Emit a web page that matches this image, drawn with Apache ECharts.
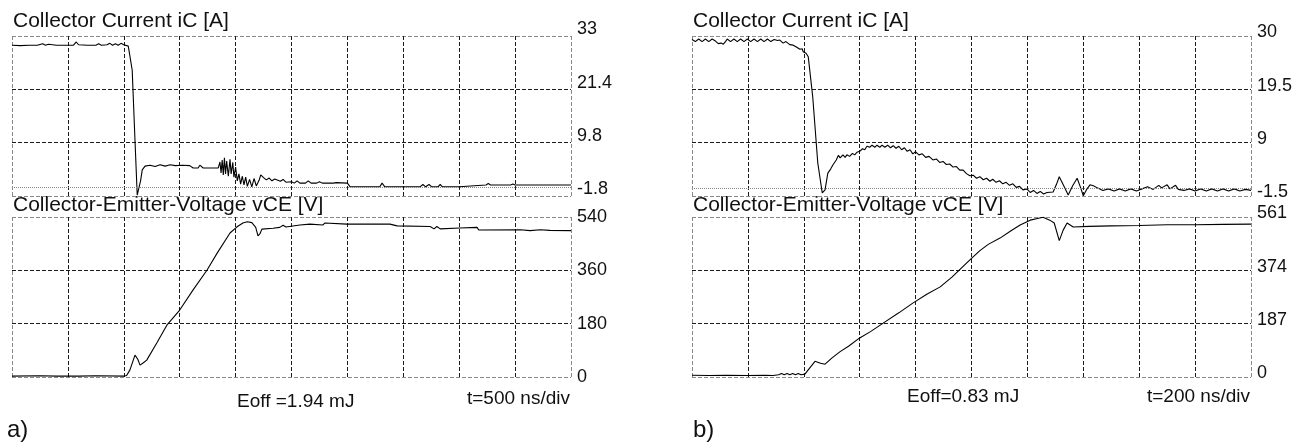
<!DOCTYPE html>
<html>
<head>
<meta charset="utf-8">
<script src="https://cdn.jsdelivr.net/npm/echarts@6/dist/echarts.min.js"></script>
<style>html,body{margin:0;padding:0;background:#fff;}#c{width:1306px;height:442px;}</style>
</head>
<body>
<div id="c"></div>
<script>
// ---- tick labels ----
const ticksA_iC = [-1.8, 9.8, 21.4, 33];
const ticksA_vCE = [0, 180, 360, 540];
const ticksB_iC = [-1.5, 9, 19.5, 30];
const ticksB_vCE = [0, 187, 374, 561];
const timeDivs = [0, 10]; // 10 divisions

// ---- a) collector current (time in divisions, current in A) ----
const tA_iC = [0,0.15,0.3,0.45,0.55,0.6,0.65,0.8,0.95,1.1,
  1.15,1.19,1.35,1.5,1.55,1.6,1.7,1.75,1.8,1.85,
  1.9,1.95,2.0,2.03,2.08,2.15,2.2,2.24,2.3,2.33,
  2.38,2.47,2.56,2.65,2.74,2.83,2.92,3.05,3.18,3.24,
  3.33,3.36,3.42,3.55,3.69,3.72,3.74,3.76,3.78,3.8,
  3.82,3.84,3.87,3.9,3.92,3.95,3.97,4.0,4.03,4.06,
  4.09,4.12,4.15,4.18,4.21,4.25,4.29,4.33,4.37,4.42,
  4.45,4.5,4.55,4.6,4.65,4.7,4.8,4.85,4.9,5.0,
  5.05,5.1,5.15,5.25,5.3,5.35,5.45,5.5,5.55,5.75,
  5.8,6.0,6.05,6.58,6.62,6.67,7.3,7.35,7.4,7.46,
  7.51,7.56,7.62,7.66,7.7,8.0,8.02,8.48,8.52,8.56,
  8.92,8.96,9.0,10];
const iA_iC = [31.0,30.9,31.0,31.0,31.3,31.0,31.2,31.0,31.0,31.0,
  31.7,31.1,31.0,31.0,31.3,31.0,31.1,31.4,31.0,31.3,
  31.0,31.4,31.1,31.4,30.8,25.6,10.4,-1.6,1.5,3.9,
  4.7,4.9,4.6,5.0,4.7,5.0,4.8,4.9,4.8,4.3,
  4.3,4.9,4.3,4.3,4.3,5.6,3.2,6.0,2.8,6.5,
  3.0,5.8,2.5,6.2,3.0,5.5,2.3,4.5,1.5,3.0,
  0.8,2.5,0.6,2.3,0.3,1.8,0.2,2.0,0.4,1.6,
  2.8,2.2,1.7,2.1,1.5,1.9,1.4,1.8,1.2,1.3,
  1.0,1.5,1.0,1.0,1.5,1.0,1.0,1.3,1.0,1.0,
  1.1,1.0,0.2,0.2,1.0,0.2,0.2,0.7,0.2,0.7,
  0.2,0.2,0.2,0.7,0.2,0.2,0.6,0.6,0.9,0.6,
  0.6,0.8,0.6,0.6];

// ---- a) collector-emitter voltage (V) ----
const tA_vCE = [0,0.5,0.8,1.2,1.5,2.0,2.05,2.11,2.2,2.25,
  2.29,2.35,2.41,2.59,2.77,3.0,3.24,3.49,3.67,3.9,
  4.02,4.13,4.21,4.29,4.36,4.4,4.44,4.47,4.67,4.79,
  4.85,4.9,5.15,5.33,5.56,5.6,5.99,6.76,6.89,7.48,
  7.55,7.6,7.66,8.01,8.32,8.35,9.09,9.27,9.45,9.62,10];
const vA_vCE = [3,4,3,3,4,3,5,24,74,60,
  40,48,57,115,175,226,294,361,418,486,
  506,520,524,521,505,476,485,499,502,505,
  512,506,513,516,513,520,516,516,510,508,
  500,508,500,503,505,496,497,494,497,495,494];

// ---- b) collector current (A) ----
const tB_iC = [0,0.06,0.12,0.18,0.24,0.3,0.36,0.42,0.47,0.52,
  0.56,0.6,0.63,0.69,0.75,0.81,0.87,0.93,0.99,1.05,
  1.11,1.17,1.23,1.29,1.35,1.41,1.47,1.53,1.57,1.63,
  1.68,1.75,1.81,1.86,1.93,1.97,1.99,2.04,2.08,2.11,
  2.16,2.25,2.33,2.38,2.43,2.48,2.52,2.58,2.62,2.65,
  2.7,2.74,2.77,2.82,2.87,2.91,2.95,3.0,3.05,3.09,
  3.13,3.18,3.22,3.27,3.31,3.36,3.4,3.45,3.5,3.55,
  3.6,3.65,3.7,3.75,3.8,3.85,3.9,3.95,4.0,4.06,
  4.12,4.18,4.24,4.31,4.37,4.43,4.49,4.55,4.61,4.67,
  4.73,4.79,4.85,4.91,4.97,5.03,5.09,5.15,5.21,5.27,
  5.33,5.38,5.44,5.5,5.56,5.62,5.68,5.74,5.8,5.86,
  5.92,5.99,6.05,6.11,6.17,6.23,6.29,6.35,6.46,6.52,
  6.57,6.65,6.73,6.81,6.89,6.95,7.0,7.06,7.12,7.18,
  7.25,7.35,7.45,7.55,7.65,7.75,7.85,7.95,8.05,8.15,
  8.25,8.35,8.4,8.5,8.55,8.65,8.7,8.8,8.9,9.0,
  9.1,9.2,9.3,9.4,9.5,9.6,9.7,9.8,9.9,10];
const iB_iC = [29.3,28.9,29.4,28.9,29.4,28.9,29.4,29.0,28.5,28.6,
  28.4,28.9,29.4,28.9,29.4,28.9,29.4,28.9,29.4,28.9,
  29.4,28.9,29.4,28.9,29.4,28.9,29.3,29.1,29.2,28.6,
  28.9,28.3,28.2,27.9,27.4,27.5,26.9,26.6,25.9,25.6,
  18.0,5.0,-0.9,-0.3,3.0,3.8,4.6,5.6,6.5,6.0,
  6.6,6.1,6.6,6.3,6.9,6.6,7.1,7.3,7.8,7.6,
  8.3,8.1,8.5,8.1,8.5,8.1,8.5,8.1,8.5,8.0,
  8.4,7.9,8.3,7.6,8.0,7.3,7.6,6.8,7.2,6.6,
  6.8,6.1,6.3,5.6,5.8,5.1,5.3,4.7,4.8,4.2,
  4.3,3.6,3.6,2.9,2.5,2.6,2.0,2.3,1.7,2.0,
  1.4,1.8,1.2,1.5,0.9,1.2,0.6,0.9,0.2,0.4,
  -0.3,-0.1,-0.8,-0.4,-1.0,-0.6,-1.1,-0.8,-0.7,0.8,
  2.3,0.5,-1.3,0.5,2.0,0.2,-1.45,-0.2,0.7,0.5,
  0.1,-0.4,-0.1,-0.5,-0.1,-0.5,-0.1,-0.5,-0.1,0.3,
  -0.2,0.6,0.1,0.7,-0.1,0.6,-0.2,-0.4,-0.1,-0.5,
  -0.1,-0.5,-0.1,-0.5,-0.1,-0.5,-0.1,-0.5,-0.2,-0.4];

// ---- b) collector-emitter voltage (V) ----
const tB_vCE = [0,0.3,0.6,1.0,1.3,1.45,1.55,1.6,1.65,1.7,
  1.75,1.8,1.85,1.9,1.95,2.02,2.1,2.2,2.3,2.38,
  2.5,2.65,2.8,3.0,3.2,3.42,3.7,3.95,4.2,4.44,
  4.65,4.85,5.0,5.15,5.3,5.51,5.7,5.87,6.05,6.18,
  6.28,6.4,6.48,6.57,6.64,6.71,6.82,7.1,7.5,8.0,
  8.5,9.0,9.5,10];
const vB_vCE = [6,5,6,5,6,5,8,12,8,12,
  8,12,8,12,8,10,30,55,48,45,
  66,89,108,137,160,189,225,259,290,316,
  350,388,416,443,465,487,512,533,550,556,
  560,550,540,478,515,540,526,528,530,531,
  534,534,535,536];

function zip(t, v) { return t.map((x, i) => [x, v[i]]); }

const FONT = '"Liberation Sans", Arial, sans-serif';
const gridColor = '#1a1a1a', borderColor = '#8a8a8a';
const xLineColors = [borderColor].concat(Array(9).fill(gridColor), [borderColor]);
const yLineColors = [borderColor, gridColor, gridColor, borderColor];

const grids = [
  {left: 12, top: 36, width: 559, height: 160},
  {left: 12, top: 217, width: 559, height: 160},
  {left: 692, top: 36, width: 559, height: 160},
  {left: 692, top: 217, width: 559, height: 160}
];
const yTicks = [ticksA_iC, ticksA_vCE, ticksB_iC, ticksB_vCE];
// label vertical placement per panel: [verticalAlign, lineHeight]
const labelPlace = [['bottom', 13], ['middle', 18], ['bottom', 7], ['bottom', 7]];

const xAxes = grids.map((g, i) => ({
  gridIndex: i, type: 'value', min: timeDivs[0], max: timeDivs[1], interval: 1,
  axisLine: {show: false}, axisTick: {show: false}, axisLabel: {show: false},
  splitLine: {show: true, lineStyle: {color: xLineColors, type: [4, 2], width: 1}}
}));
const yAxes = grids.map((g, i) => ({
  gridIndex: i, type: 'value', position: 'right',
  min: yTicks[i][0], max: yTicks[i][3],
  axisLine: {show: false},
  axisTick: {show: false, customValues: yTicks[i]},
  axisLabel: {show: true, customValues: yTicks[i], margin: 6, fontSize: 18, color: '#111',
    fontFamily: FONT, verticalAlign: labelPlace[i][0], lineHeight: labelPlace[i][1],
    formatter: v => String(v)},
  splitLine: {show: true, lineStyle: {color: yLineColors, type: [4, 2], width: 1}}
}));

const zeroLine = {
  silent: true, symbol: 'none', label: {show: false}, animation: false,
  lineStyle: {color: '#888', type: [1, 1], width: 1},
  data: [{yAxis: 0}]
};
function lineSeries(idx, data, withZero) {
  const s = {type: 'line', xAxisIndex: idx, yAxisIndex: idx, data: data, showSymbol: false,
    symbol: 'none', lineStyle: {color: '#000', width: 1.1}, animation: false};
  if (withZero) s.markLine = zeroLine;
  return s;
}

function txt(x, y, text, size) {
  return {type: 'text', x: x, y: y, silent: true,
    style: {text: text, font: size + 'px ' + FONT, fill: '#111', align: 'left', verticalAlign: 'middle'}};
}

const chart = echarts.init(document.getElementById('c'), null, {renderer: 'canvas'});
chart.setOption({
  backgroundColor: '#fff',
  animation: false,
  grid: grids,
  xAxis: xAxes,
  yAxis: yAxes,
  series: [
    lineSeries(0, zip(tA_iC, iA_iC), true),
    lineSeries(1, zip(tA_vCE, vA_vCE), false),
    lineSeries(2, zip(tB_iC, iB_iC), true),
    lineSeries(3, zip(tB_vCE, vB_vCE), false)
  ],
  graphic: [
    txt(13, 21, 'Collector Current iC [A]', 21),
    txt(13, 205, 'Collector-Emitter-Voltage vCE [V]', 21),
    txt(237, 402, 'Eoff =1.94 mJ', 19),
    txt(467, 399, 't=500 ns/div', 19),
    txt(7, 430, 'a)', 24),
    txt(693, 21, 'Collector Current iC [A]', 21),
    txt(693, 205, 'Collector-Emitter-Voltage vCE [V]', 21),
    txt(907, 397, 'Eoff=0.83 mJ', 19),
    txt(1147, 397, 't=200 ns/div', 19),
    txt(693, 430, 'b)', 24)
  ]
});
</script>
</body>
</html>
